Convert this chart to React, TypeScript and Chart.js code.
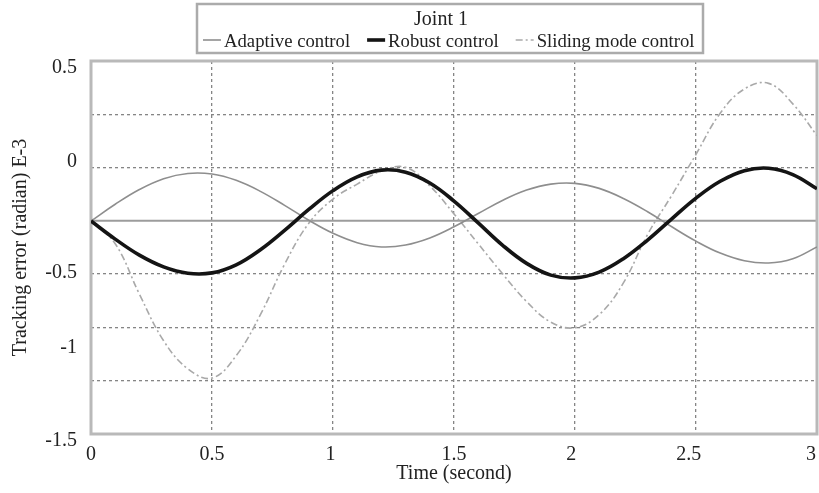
import React, { useEffect, useRef } from 'react';
import { Chart, registerables } from 'chart.js';

Chart.register(...registerables);

// ---------- data ----------
const TIME = [0, 0.1, 0.2, 0.3, 0.4, 0.5, 0.6, 0.7, 0.8, 0.9, 1.0, 1.1, 1.2, 1.3, 1.4, 1.5,
  1.6, 1.7, 1.8, 1.9, 2.0, 2.1, 2.2, 2.3, 2.4, 2.5, 2.6, 2.7, 2.8, 2.9, 3.0];

const ADAPTIVE = [-0.358, -0.268, -0.189, -0.131, -0.103, -0.106, -0.14, -0.199, -0.274, -0.354,
  -0.424, -0.474, -0.497, -0.487, -0.449, -0.389, -0.318, -0.248, -0.192, -0.16,
  -0.156, -0.183, -0.237, -0.308, -0.389, -0.466, -0.53, -0.571, -0.583, -0.56, -0.497];

const ROBUST = [-0.358, -0.455, -0.541, -0.604, -0.638, -0.636, -0.593, -0.512, -0.408, -0.296,
  -0.195, -0.121, -0.085, -0.096, -0.154, -0.251, -0.368, -0.487, -0.585, -0.648,
  -0.663, -0.632, -0.56, -0.46, -0.346, -0.235, -0.145, -0.088, -0.075, -0.109, -0.185];

const SLIDING = [-0.358, -0.48, -0.75, -1.0, -1.15, -1.2, -1.08, -0.86, -0.59, -0.37,
  -0.24, -0.16, -0.09, -0.07, -0.17, -0.32, -0.48, -0.64, -0.79, -0.9,
  -0.93, -0.86, -0.69, -0.43, -0.22, 0.0, 0.22, 0.35, 0.38, 0.27, 0.1];

const SERIES_LABELS = ['Adaptive control', 'Robust control', 'Sliding mode control'];
const LEGEND_TITLE = 'Joint 1';
const X_TITLE = 'Time (second)';
const Y_TITLE = 'Tracking error (radian) E-3';

const X_MIN = 0;
const X_MAX = 3;
const X_GRID_VALUES = [0, 0.5, 1, 1.5, 2, 2.5, 3];
// where the x labels sit in the picture
const X_TICK_VALUES = [0, 0.5, 0.99, 1.5, 1.985, 2.47, 2.975];
const X_TICK_LABELS = ['0', '0.5', '1', '1.5', '2', '2.5', '3'];

const Y_MIN = -1.5;
const Y_MAX = 0.5;
// where the y labels sit in the picture
const Y_TICK_VALUES = [0.5, 0, -0.6, -1, -1.5];
const Y_TICK_LABELS = ['0.5', '0', '-0.5', '-1', '-1.5'];
const Y_GRID_DIVISIONS = 7;
const Y_SOLID_GRID_INDEX = 3; // counted from the top

// ---------- helpers ----------
const FONT = "'Liberation Serif', 'Times New Roman', serif";
const TEXT = '#222222';
const EPS = 1e-6;

const near = (a: number, b: number) => Math.abs(a - b) < EPS;
const uniqueSorted = (arr: number[]) =>
  arr.filter((v, i, a) => a.findIndex((w) => near(w, v)) === i).sort((a, b) => a - b);

const Y_GRID_VALUES = Array.from({ length: Y_GRID_DIVISIONS + 1 }, (_, k) =>
  Y_MAX - (k * (Y_MAX - Y_MIN)) / Y_GRID_DIVISIONS);

const Y_ALL_TICKS = uniqueSorted([...Y_GRID_VALUES, ...Y_TICK_VALUES]);
const X_ALL_TICKS = uniqueSorted([...X_GRID_VALUES, ...X_TICK_VALUES]);

const yGridIndex = (v: number) => Y_GRID_VALUES.findIndex((g) => near(g, v));

const makePoints = (ys: number[]) => TIME.map((t, i) => ({ x: t, y: ys[i] }));

const GRID_COLOR = '#858585';
const SOLID_COLOR = '#9c9c9c';
const CLEAR = 'rgba(0,0,0,0)';

const yGridColor = (ctx: any) => {
  const v = ctx.tick ? ctx.tick.value : NaN;
  const k = yGridIndex(v);
  if (k <= 0 || k >= Y_GRID_DIVISIONS || k === Y_SOLID_GRID_INDEX) return CLEAR;
  return GRID_COLOR;
};
const xGridColor = (ctx: any) => {
  const v = ctx.tick ? ctx.tick.value : NaN;
  if (near(v, X_MIN) || near(v, X_MAX)) return CLEAR;
  if (!X_GRID_VALUES.some((g) => near(g, v))) return CLEAR;
  return GRID_COLOR;
};

const frameAndLegend = {
  id: 'frameAndLegend',
  beforeDatasetsDraw(chart: any) {
    const { ctx, chartArea, scales } = chart;
    ctx.save();
    // solid horizontal reference line on one grid position
    const y = scales.y.getPixelForValue(Y_GRID_VALUES[Y_SOLID_GRID_INDEX]);
    ctx.strokeStyle = SOLID_COLOR;
    ctx.lineWidth = 2;
    ctx.beginPath();
    ctx.moveTo(chartArea.left, y);
    ctx.lineTo(chartArea.right, y);
    ctx.stroke();
    // plot frame
    ctx.strokeStyle = '#b9b9b9';
    ctx.lineWidth = 3;
    ctx.strokeRect(chartArea.left, chartArea.top, chartArea.right - chartArea.left, chartArea.bottom - chartArea.top);
    ctx.restore();
  },
  afterDraw(chart: any) {
    const { ctx } = chart;
    ctx.save();
    // legend box
    ctx.strokeStyle = '#ababab';
    ctx.lineWidth = 2.5;
    ctx.strokeRect(197, 4, 506, 49);
    // title
    ctx.fillStyle = TEXT;
    ctx.font = `20px ${FONT}`;
    ctx.textAlign = 'center';
    ctx.textBaseline = 'alphabetic';
    ctx.fillText(LEGEND_TITLE, 441, 25);
    // items
    ctx.font = `18.7px ${FONT}`;
    ctx.textAlign = 'left';
    let x = 203;
    chart.data.datasets.forEach((ds: any) => {
      ctx.strokeStyle = ds.borderColor;
      ctx.lineWidth = ds.borderWidth;
      ctx.setLineDash(ds.borderDash || []);
      ctx.beginPath();
      ctx.moveTo(x, 40);
      ctx.lineTo(x + 18, 40);
      ctx.stroke();
      ctx.setLineDash([]);
      x += 21;
      ctx.fillStyle = TEXT;
      ctx.fillText(ds.label, x, 47);
      x += ctx.measureText(ds.label).width + 17;
    });
    ctx.restore();
  },
};

export default function App() {
  const canvasRef = useRef<HTMLCanvasElement | null>(null);

  useEffect(() => {
    if (!canvasRef.current) return;
    Chart.defaults.font.family = FONT;
    Chart.defaults.color = TEXT;

    const chart = new Chart(canvasRef.current, {
      type: 'line',
      data: {
        datasets: [
          {
            label: SERIES_LABELS[0],
            data: makePoints(ADAPTIVE),
            borderColor: '#8e8e8e',
            borderWidth: 1.6,
            tension: 0.4,
            pointRadius: 0,
            order: 2,
          },
          {
            label: SERIES_LABELS[1],
            data: makePoints(ROBUST),
            borderColor: '#141414',
            borderWidth: 3.6,
            tension: 0.4,
            pointRadius: 0,
            order: 1,
          },
          {
            label: SERIES_LABELS[2],
            data: makePoints(SLIDING),
            borderColor: '#a9a9a9',
            borderWidth: 1.6,
            borderDash: [7, 3, 2, 3],
            tension: 0.4,
            pointRadius: 0,
            order: 3,
          },
        ],
      },
      options: {
        animation: false,
        responsive: true,
        maintainAspectRatio: false,
        devicePixelRatio: 1,
        events: [],
        layout: { padding: { top: 61, right: 2, bottom: 0, left: 0 } },
        plugins: {
          legend: { display: false },
          title: { display: false },
          tooltip: { enabled: false },
        },
        scales: {
          x: {
            type: 'linear',
            min: X_MIN,
            max: X_MAX,
            afterBuildTicks: (axis: any) => {
              axis.ticks = X_ALL_TICKS.map((v) => ({ value: v }));
            },
            afterFit: (s: any) => {
              s.height = 59;
              s.paddingLeft = 0;
              s.paddingRight = 0;
            },
            ticks: {
              autoSkip: false,
              maxRotation: 0,
              padding: 9,
              color: TEXT,
              font: { size: 20, family: FONT },
              callback: (v: any) => {
                const i = X_TICK_VALUES.findIndex((t) => near(t, Number(v)));
                return i >= 0 ? X_TICK_LABELS[i] : '';
              },
            },
            grid: {
              drawTicks: false,
              color: xGridColor,
              lineWidth: 1.3,
            },
            border: { display: false, dash: [3, 3] },
            title: {
              display: true,
              text: X_TITLE,
              color: TEXT,
              font: { size: 20, family: FONT },
              padding: { top: 0, bottom: 7 },
            },
          },
          y: {
            type: 'linear',
            min: Y_MIN,
            max: Y_MAX,
            afterBuildTicks: (axis: any) => {
              axis.ticks = Y_ALL_TICKS.map((v) => ({ value: v }));
            },
            afterFit: (s: any) => {
              s.width = 91;
              s.paddingTop = 0;
              s.paddingBottom = 0;
            },
            ticks: {
              autoSkip: false,
              padding: 14,
              labelOffset: 7,
              color: TEXT,
              font: { size: 20, family: FONT },
              callback: (v: any) => {
                const i = Y_TICK_VALUES.findIndex((t) => near(t, Number(v)));
                return i >= 0 ? Y_TICK_LABELS[i] : '';
              },
            },
            grid: {
              drawTicks: false,
              color: yGridColor,
              lineWidth: 1.3,
            },
            border: { display: false, dash: [3, 3] },
            title: {
              display: true,
              text: Y_TITLE,
              color: TEXT,
              font: { size: 20, family: FONT },
              padding: { top: 9, bottom: 0 },
            },
          },
        },
      },
      plugins: [frameAndLegend],
    } as any);

    return () => chart.destroy();
  }, []);

  return (
    <div style={{ position: 'absolute', left: 0, top: 0, width: 819, height: 493, background: '#ffffff' }}>
      <canvas ref={canvasRef} />
    </div>
  );
}
